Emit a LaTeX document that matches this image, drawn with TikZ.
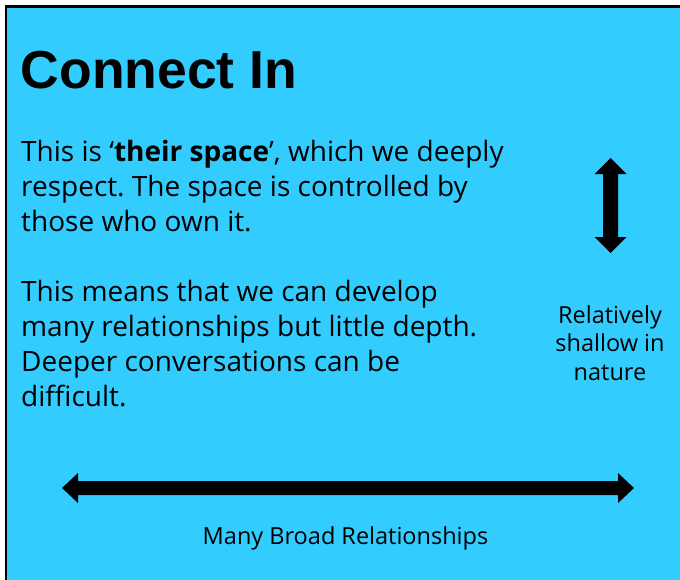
\documentclass[tikz,border=0pt]{standalone}
\usepackage{fontspec}
\setmainfont{Open Sans}
\newfontfamily\titlefont{Liberation Sans}
\definecolor{panelblue}{HTML}{33CCFF}
\frenchspacing
\begin{document}
\begin{tikzpicture}[x=1pt,y=-1pt,
  bodytext/.style={anchor=base west,inner sep=0pt,align=left,font=\fontsize{28}{34.8}\selectfont},
  sidetext/.style={anchor=base,inner sep=0pt,align=center,font=\fontsize{23.5}{28.5}\selectfont},
  blockarrow/.style={fill=black}]
\useasboundingbox (0,0) rectangle (680,579);
\fill[white] (0,0) rectangle (680,579);
\draw[line width=2.5pt,fill=panelblue] (6,6.5) rectangle (700,600);
\node[anchor=base west,inner sep=0pt,font=\titlefont\bfseries\fontsize{53.5}{60}\selectfont] (title) at (20.5,88) {Connect In};
\node[bodytext] (para1) at (21,231) {This is ‘\textbf{their space}’, which we deeply\\respect. The space is controlled by\\those who own it.};
\node[bodytext] (para2) at (21,406) {This means that we can develop\\many relationships but little depth.\\Deeper conversations can be\\difficult.};
\node[sidetext] (depth) at (610,380) {Relatively\\shallow in\\nature};
\node[sidetext] (breadth) at (345.5,544) {Many Broad Relationships};
% vertical double arrow
\coordinate (vtop) at (610.5,158);
\coordinate (vbot) at (610.5,253);
\fill[blockarrow] (vtop) -- ++(16,16) -- ++(-8.5,0) -- ++(0,63) -- ++(8.5,0) -- (vbot) -- ++(-16,-16) -- ++(8.5,0) -- ++(0,-63) -- ++(-8.5,0) -- cycle;
% horizontal double arrow
\coordinate (hleft) at (62,488);
\coordinate (hright) at (634,488);
\fill[blockarrow] (hleft) -- ++(16,-15) -- ++(0,8) -- ++(540,0) -- ++(0,-8) -- (hright) -- ++(-16,15) -- ++(0,-8) -- ++(-540,0) -- ++(0,8) -- cycle;
\end{tikzpicture}
\end{document}
